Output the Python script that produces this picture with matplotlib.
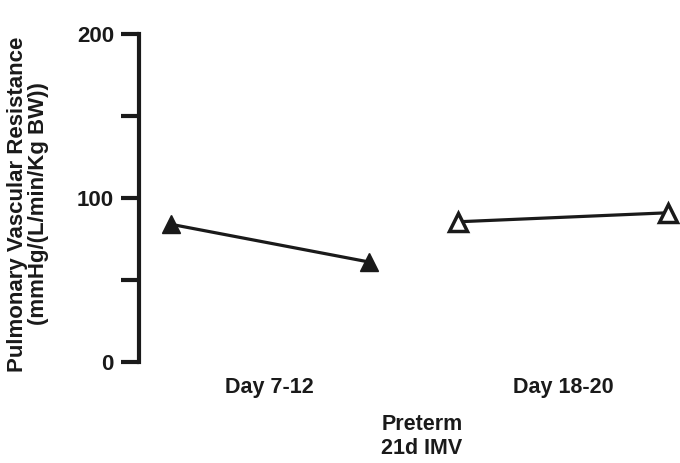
import matplotlib.pyplot as plt

# Data
groups = ["Day 7-12", "Day 18-20"]
x_early = [1.0, 2.0]
pvr_early = [84, 61]
x_late = [2.45, 3.51]
pvr_late = [85.5, 91]
y_ticks = [0, 100, 200]
y_minor = [50, 150]

plt.rcParams['font.family'] = ['Liberation Sans', 'DejaVu Sans']
plt.rcParams['font.weight'] = 'bold'

fig = plt.figure(figsize=(6.8, 4.63), dpi=100)
ax = fig.add_axes([139 / 680, 1 - 362 / 463, 541 / 680, 328 / 463])

ax.plot(x_early, pvr_early, color='#1a1a1a', lw=2.3, marker='^', ms=13,
        mfc='#1a1a1a', mec='#1a1a1a', clip_on=False, zorder=3)
ax.plot(x_late, pvr_late, color='#1a1a1a', lw=2.3, marker='^', ms=13,
        mfc='white', mec='#1a1a1a', mew=2.5, clip_on=False, zorder=3)

ax.set_ylim(0, 200)
ax.set_xlim(0.84, 3.57)
ax.set_yticks(y_ticks)
ax.set_yticks(y_minor, minor=True)
ax.set_xticks([(x_early[0] + x_early[1]) / 2, (x_late[0] + x_late[1]) / 2])
ax.set_xticklabels(groups)

for s in ['top', 'right', 'bottom']:
    ax.spines[s].set_visible(False)
ax.spines['left'].set_linewidth(3)
ax.spines['left'].set_color('#1a1a1a')

ax.tick_params(axis='y', which='both', length=13, width=3, color='#1a1a1a',
               labelsize=16, labelcolor='#1a1a1a', pad=5)
ax.tick_params(axis='x', length=0, labelsize=15.5, labelcolor='#1a1a1a', pad=11)

ax.set_ylabel("Pulmonary Vascular Resistance\n(mmHg/(L/min/Kg BW))",
              fontsize=16, fontweight='bold', color='#1a1a1a',
              multialignment='center', linespacing=1.0)
ax.yaxis.set_label_coords(-0.166, 0.482, transform=ax.transAxes)
ax.set_xlabel("Preterm\n21d IMV", fontsize=15.5, fontweight='bold', color='#1a1a1a',
              multialignment='center')
ax.xaxis.set_label_coords(0.523, -0.159, transform=ax.transAxes)
ax.xaxis.label.set_va('top')

fig.savefig("out.png", dpi=100)
